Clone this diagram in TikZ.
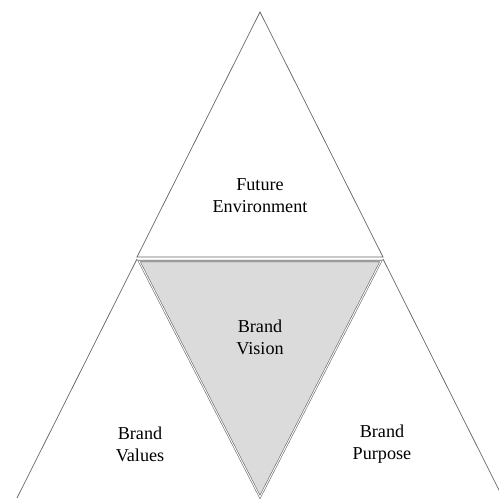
\documentclass[tikz,border=0pt]{standalone}
\usepackage{fontspec}
\setmainfont{Liberation Serif}
\usepackage{tikz}
\usetikzlibrary{positioning}
\colorlet{edgegray}{black!60}
\tikzstyle{label}=[align=center,font=\fontsize{15.5}{19}\selectfont]
\tikzstyle{side}=[draw=edgegray,line width=0.6pt]

\begin{document}
\begin{tikzpicture}[x=0.03cm,y=-0.03cm]
    \useasboundingbox (0,0) rectangle (499,498);
    \clip (0,0) rectangle (499,498);

    \coordinate (apex) at (260,12);
    \coordinate (tl) at (137,257);
    \coordinate (tr) at (383,257);
    \coordinate (gl) at (139,261);
    \coordinate (gr) at (381,261);
    \coordinate (gb) at (260,497);

    \draw[side] (apex) -- (tl) -- (tr) -- cycle;

    \draw[side] (tl) ++(0,2) -- (17,498);
    \draw[side] (tr) ++(0,2) -- (503,498);

    \filldraw[fill=gray!28, draw=edgegray, double=white, double distance=0.8pt, line width=0.5pt] (gl) -- (gr) -- (gb) -- cycle;

    \node[label] (future) at (260,196) {Future\\Environment};
    \node[label] (vision) at (260,337) {Brand\\Vision};
    \node[label] (values) at (140,444) {Brand\\Values};
    \node[label] (purpose) at (382,444) {Brand\\Purpose};
\end{tikzpicture}
\end{document}
